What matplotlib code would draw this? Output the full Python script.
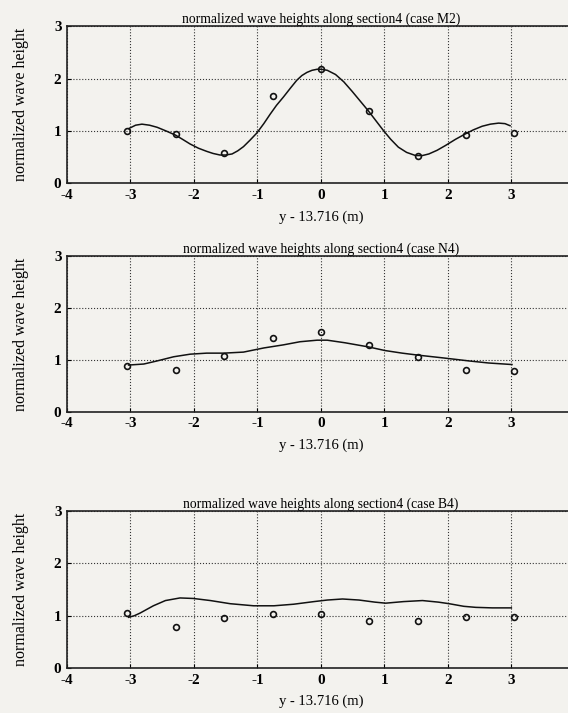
import matplotlib.pyplot as plt
import numpy as np

plt.rcParams['font.family'] = ['Liberation Serif', 'DejaVu Serif']
plt.rcParams['axes.unicode_minus'] = False

# measured points (y - 13.716 m)
pts_x = [-3.048, -2.286, -1.524, -0.762, 0.0, 0.762, 1.524, 2.286, 3.048]
m2_pts = [1.00, 0.94, 0.57, 1.66, 2.18, 1.38, 0.53, 0.92, 0.97]
n4_pts = [0.88, 0.81, 1.07, 1.43, 1.53, 1.28, 1.06, 0.80, 0.78]
b4_pts = [1.05, 0.79, 0.96, 1.03, 1.04, 0.90, 0.89, 0.97, 0.97]

# model curves
m2_cx = [-3.02, -2.92, -2.82, -2.70, -2.58, -2.44, -2.29, -2.18, -2.06, -1.93, -1.80,
         -1.70, -1.59, -1.50, -1.40, -1.31, -1.22, -1.12, -1.01, -0.90, -0.80, -0.70,
         -0.59, -0.48, -0.38, -0.30, -0.22, -0.14, -0.06, 0.0, 0.10, 0.23, 0.36,
         0.49, 0.62, 0.75, 0.87, 0.99, 1.10, 1.22, 1.35, 1.49, 1.60, 1.70, 1.83,
         1.96, 2.12, 2.27, 2.40, 2.54, 2.67, 2.80, 2.90, 2.98]
m2_cy = [1.05, 1.11, 1.13, 1.11, 1.07, 1.00, 0.92, 0.84, 0.75, 0.67, 0.61,
         0.57, 0.54, 0.54, 0.56, 0.62, 0.70, 0.82, 0.96, 1.14, 1.32, 1.49,
         1.65, 1.82, 1.97, 2.06, 2.12, 2.16, 2.18, 2.18, 2.16, 2.08, 1.94,
         1.76, 1.57, 1.38, 1.19, 1.00, 0.84, 0.69, 0.59, 0.53, 0.53, 0.56, 0.63,
         0.72, 0.84, 0.94, 1.02, 1.09, 1.13, 1.15, 1.14, 1.10]

n4_cx = [-3.03, -2.79, -2.58, -2.32, -2.06, -1.80, -1.53, -1.22, -0.90, -0.59,
         -0.33, -0.06, 0.10, 0.38, 0.75, 1.01, 1.28, 1.54, 1.91, 2.33, 2.64, 3.01]
n4_cy = [0.90, 0.92, 0.98, 1.06, 1.11, 1.13, 1.13, 1.15, 1.23, 1.29,
         1.35, 1.38, 1.38, 1.33, 1.25, 1.18, 1.13, 1.09, 1.04, 0.98, 0.94, 0.91]

b4_cx = [-3.03, -2.94, -2.85, -2.64, -2.45, -2.22, -2.01, -1.74, -1.43, -1.06,
         -0.74, -0.43, -0.11, 0.10, 0.34, 0.60, 0.85, 1.02, 1.30, 1.60, 1.85,
         2.02, 2.25, 2.44, 2.70, 3.00]
b4_cy = [0.97, 1.00, 1.05, 1.19, 1.29, 1.34, 1.33, 1.29, 1.23, 1.19,
         1.19, 1.22, 1.27, 1.30, 1.32, 1.30, 1.26, 1.24, 1.27, 1.29, 1.26,
         1.23, 1.18, 1.16, 1.15, 1.15]

cases = ['M2', 'N4', 'B4']
panels = [(m2_pts, m2_cx, m2_cy), (n4_pts, n4_cx, n4_cy), (b4_pts, b4_cx, b4_cy)]

fig = plt.figure(figsize=(5.68, 7.13), dpi=100, facecolor='#f3f2ee')

# axes boxes: left, bottom, width, height (figure fraction)
boxes = [[0.118, 0.743, 0.894, 0.220],
         [0.118, 0.4226, 0.894, 0.218],
         [0.118, 0.0631, 0.894, 0.220]]

for case, (pts, cx, cy), box in zip(cases, panels, boxes):
    ax = fig.add_axes(box)
    ax.set_facecolor('#f3f2ee')
    ax.plot(cx, cy, color='#111111', lw=1.1)
    ax.plot(pts_x, pts, 'o', ms=4.2, mfc='none', mec='#111111', mew=1.2)
    ax.set_xlim(-4, 4)
    ax.set_ylim(0, 3)
    ax.set_xticks(np.arange(-4, 5, 1))
    ax.set_yticks([0, 1, 2, 3])
    ax.grid(True, color='#333333', linestyle=':', lw=0.8)
    ax.tick_params(direction='in', length=3, width=0.8, labelsize=11)
    ax.tick_params(axis='x', pad=4)
    ax.tick_params(axis='y', pad=4)
    for lbl in ax.get_xticklabels() + ax.get_yticklabels():
        lbl.set_fontweight('bold')
    for sp in ax.spines.values():
        sp.set_linewidth(1.2)
        sp.set_color('#222222')
    ax.set_title('normalized wave heights along section4 (case %s)' % case,
                 fontsize=9.8, pad=2)
    ax.set_xlabel('y - 13.716 (m)', fontsize=10.5, labelpad=6)
    ax.set_ylabel('normalized wave height', fontsize=11.5, labelpad=18)

fig.savefig('out.png', dpi=100, facecolor=fig.get_facecolor())
